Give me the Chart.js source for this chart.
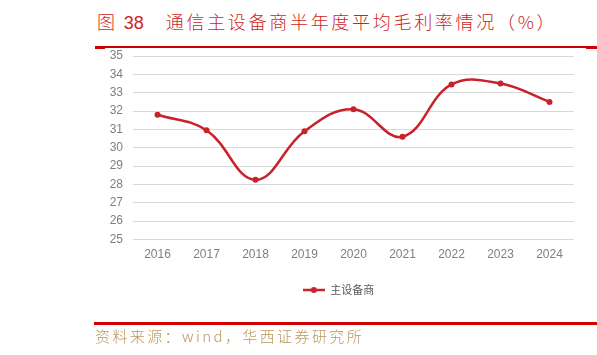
<!DOCTYPE html>
<html>
<head>
<meta charset="utf-8">
<script src="https://cdn.jsdelivr.net/npm/chart.js@4"></script>
<style>
  html, body { margin: 0; padding: 0; background: #fff; }
  #wrap { position: relative; width: 597px; height: 355px; overflow: hidden; }
  #title { position: absolute; left: 97px; top: 9px; font-family: 'Noto Sans CJK SC', sans-serif; font-weight: 300; font-size: 18px; color: #cc1f1f; white-space: nowrap; letter-spacing: 2.7px; line-height: 24px; }
  #title .num { font-family: 'Liberation Sans', sans-serif; font-weight: 400; letter-spacing: 0; margin-left: 6px; margin-right: 22px; }
  .rule { position: absolute; background: #d00000; }
  #source { position: absolute; left: 95px; top: 326px; font-family: 'Noto Sans CJK SC', sans-serif; font-weight: 300; font-size: 15px; color: #b8965e; letter-spacing: 2.4px; line-height: 20px; white-space: nowrap; }
  canvas { position: absolute; left: 0; top: 0; }
</style>
</head>
<body>
<div id="wrap">
  <div id="title">图<span class="num">38</span>通信主设备商半年度平均毛利率情况（%）</div>
  <div class="rule" style="left:95px; top:46px; width:502px; height:1.5px;"></div>
  <div class="rule" style="left:95px; top:45.5px; width:10px; height:3px;"></div>
  <div class="rule" style="left:586px; top:45.5px; width:11px; height:3px;"></div>
  <canvas id="chart" width="597" height="355"></canvas>
  <div class="rule" style="left:94px; top:322px; width:503px; height:2.5px;"></div>
  <div id="source">资料来源：wind，华西证券研究所</div>
</div>
<script>
const years = ['2016', '2017', '2018', '2019', '2020', '2021', '2022', '2023', '2024'];
const margin = [31.8, 30.95, 28.25, 30.9, 32.1, 30.6, 33.45, 33.5, 32.5];
const seriesName = '主设备商';
const red = '#c8232c';

// legend marker: short line with a dot
const marker = document.createElement('canvas');
marker.width = 22;
marker.height = 8;
const mctx = marker.getContext('2d');
mctx.strokeStyle = red;
mctx.lineWidth = 2.5;
mctx.beginPath();
mctx.moveTo(0, 4);
mctx.lineTo(22, 4);
mctx.stroke();
mctx.fillStyle = red;
mctx.beginPath();
mctx.arc(11, 4, 3, 0, Math.PI * 2);
mctx.fill();

new Chart(document.getElementById('chart'), {
  type: 'line',
  data: {
    labels: years,
    datasets: [{
      label: seriesName,
      data: margin,
      borderColor: red,
      backgroundColor: red,
      borderWidth: 2.5,
      pointRadius: 3,
      pointBackgroundColor: red,
      pointBorderWidth: 0,
      tension: 0.4
    }]
  },
  options: {
    responsive: false,
    animation: false,
    layout: { padding: { left: 103, right: 23, top: 56, bottom: 49.5 } },
    plugins: {
      tooltip: { enabled: false },
      legend: {
        position: 'bottom',
        labels: {
          usePointStyle: true,
          pointStyle: marker,
          pointStyleWidth: 22,
          padding: 19,
          color: '#595959',
          font: { family: 'Noto Sans CJK SC', size: 11 }
        }
      }
    },
    scales: {
      y: {
        min: 25,
        max: 35,
        ticks: { stepSize: 1, color: '#7f7f7f', padding: 10, font: { family: 'Liberation Sans', size: 12 } },
        grid: { color: '#d9d9d9', drawTicks: false },
        border: { display: false },
        afterFit: s => { s.width = 30; }
      },
      x: {
        offset: true,
        ticks: { color: '#7f7f7f', padding: 0, font: { family: 'Liberation Sans', size: 12 } },
        grid: { display: false },
        border: { display: false },
        afterFit: s => { s.height = 26; }
      }
    }
  }
});
</script>
</body>
</html>
